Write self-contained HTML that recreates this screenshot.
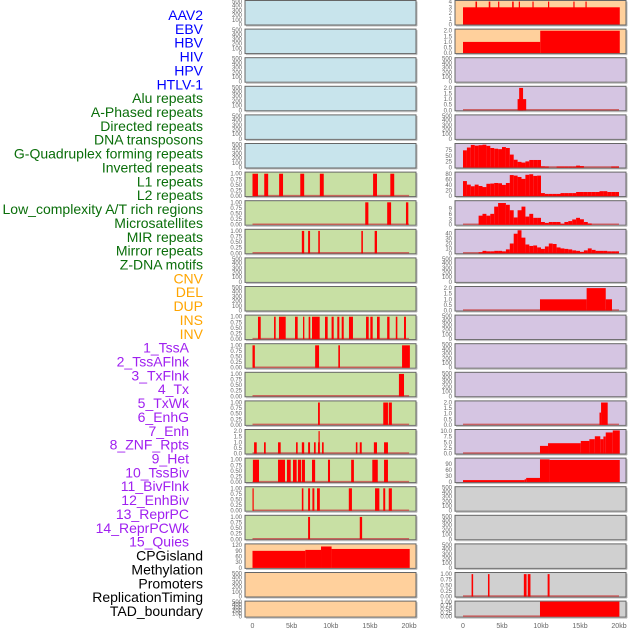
<!DOCTYPE html>
<html><head><meta charset="utf-8"><style>
html,body{margin:0;padding:0;background:#fff;width:630px;height:630px;overflow:hidden}
svg{display:block;font-family:"Liberation Sans",sans-serif}
</style></head><body>
<svg id="chart" width="630" height="630" viewBox="0 0 630 630" xmlns="http://www.w3.org/2000/svg"></svg>
<script>
const labels=["AAV2","EBV","HBV","HIV","HPV","HTLV-1","Alu repeats","A-Phased repeats","Directed repeats","DNA transposons","G-Quadruplex forming repeats","Inverted repeats","L1 repeats","L2 repeats","Low_complexity A/T rich regions","Microsatellites","MIR repeats","Mirror repeats","Z-DNA motifs","CNV","DEL","DUP","INS","INV","1_TssA","2_TssAFlnk","3_TxFlnk","4_Tx","5_TxWk","6_EnhG","7_Enh","8_ZNF_Rpts","9_Het","10_TssBiv","11_BivFlnk","12_EnhBiv","13_ReprPC","14_ReprPCWk","15_Quies","CPGisland","Methylation","Promoters","ReplicationTiming","TAD_boundary"];
const labelGroups=[6,13,5,15,5];
const groupColors=["#0000ff","#0a6e0a","#ffa500","#a020f0","#000000"];
const xTicks=[0,5,10,15,20];
const xTickLabels=["0","5kb","10kb","15kb","20kb"];
const leftBg=["blue","blue","blue","blue","blue","blue","green","green","green","green","green","green","green","green","green","green","green","green","green","peach","peach","peach"];
const rightBg=["peach","peach","lav","lav","lav","lav","lav","lav","lav","lav","lav","lav","lav","lav","lav","lav","lav","gray","gray","gray","gray","gray"];
const bgColors={blue:"#c8e4ec",green:"#c8e0a4",peach:"#ffd09c",lav:"#d5c5e2",gray:"#d0d0d0"};
const emptyTicks=[0,100,200,300,400,500];
const binTicks=[0,0.25,0.5,0.75,1.0];
const twoTicks=[0,0.5,1.0,1.5,2.0];
// left segments [startKb,endKb,value]
const L6=[[0,0.7,1],[1.5,2.0,1],[3.4,3.9,1],[6.1,6.6,1],[8.6,9.1,1],[15.4,15.9,1],[17.6,18.1,1]];
const L7=[[14.4,14.8,1],[17.2,17.7,1],[19.6,19.9,1]];
const L8=[[6.3,6.6,1],[7.1,7.35,1],[8.4,8.6,1],[13.9,14.1,1],[15.6,15.9,1]];
const L11=[[0.7,1.05,1],[2.75,2.96,1],[3.38,4.24,1],[5.43,5.77,1],[6.45,6.62,1],[7.17,7.38,1],[7.6,8.58,1],[9.26,9.6,1],[10.1,10.37,1],[10.83,11.09,1],[11.39,11.65,1],[12.32,12.83,1],[14.5,14.84,1],[15.05,15.35,1],[15.9,16.24,1],[17.2,17.5,1],[18.3,18.5,1],[19.35,19.6,1]];
const L12=[[0,0.3,1],[8.0,8.5,1],[10.96,11.17,1],[19.1,20.1,1]];
const L13=[[18.7,19.35,1]];
const L14=[[8.37,8.6,1],[16.7,17.3,1],[17.4,17.8,1]];
const L15=[[0.2,0.54,1],[1.47,1.69,1],[3.26,3.6,1],[5.56,5.77,1],[6.3,6.6,1],[7.1,7.35,1],[7.85,8.07,1],[8.37,8.6,1],[8.43,8.55,2],[8.88,9.09,1],[13.2,13.4,1],[13.7,13.95,1],[15.5,15.9,1],[16.8,17.3,1]];
const L16=[[0.05,0.83,1],[3.26,4.15,1],[4.4,4.88,1],[5.17,5.64,1],[5.8,6.2,1],[6.3,6.7,1],[7.6,8.0,1],[9.64,9.9,1],[12.6,12.95,1],[15.3,16.0,1],[16.8,17.3,1]];
const L17=[[0,0.15,1],[6.3,6.5,1],[7.1,7.35,1],[7.65,7.9,1],[8.24,8.6,1],[12.3,12.7,1],[15.65,16.2,1],[16.7,16.95,1],[17.4,17.8,1]];
const L18=[[7.1,7.35,1],[13.7,14.0,1]];
const L19=[[0,6.75,90],[6.75,8.75,95],[8.75,10.1,113],[10.1,20.08,100]];
// right segments
const R0=[[0,20.1,3],[1.6,1.8,4],[3.3,3.5,4],[4.5,4.65,4],[6.3,6.5,4],[7.15,7.3,4],[8.9,9.05,4],[10.9,11.05,4],[14.15,14.3,4],[15.7,15.85,4]];
const R1=[[0,9.9,1],[9.9,20.1,2]];
const R3=[[7.0,8.1,1],[7.2,7.7,2]];
const R10=[[9.87,15.85,1],[15.85,18.3,2],[18.3,19.1,1]];
const R14=[[17.5,17.7,1.1],[17.7,18.55,2]];
const R15=[[9.87,10.9,3.4],[10.9,15.1,4.6],[15.1,16.2,5.6],[16.2,16.9,6.4],[16.9,17.6,7.7],[17.6,18.0,6.4],[18.0,18.3,7.6],[18.3,19.2,9.4],[19.2,20.1,10.3]];
const R16=[[0,7.9,10],[7.9,8.1,14],[8.1,9.87,21],[9.87,11.1,114],[11.1,20.1,111]];
const R20=[[1.1,1.3,1],[3.2,3.4,1],[7.8,8.15,1],[8.3,8.65,1],[10.85,11.1,1]];
const R21=[[9.87,20.05,1]];
// right histograms, 0.5kb bins from 0kb
const R5hist=[73,85,96,93,95,97,92,83,80,78,87,83,55,33,24,21,26,32,32,32,5,4,0,0,4,4,4,4,4,8,6,0,0,0,0,0,0,0,4,4];
const R6hist=[55,42,36,42,37,33,45,46,48,47,41,48,77,75,70,63,78,80,74,75,11,8,8,8,8,11,11,11,11,15,15,15,15,15,15,18,18,15,15,15];
const R7hist=[0,0,0,0,5,6,5,6,10,12,12,11,8,4,8,10,4.5,6,3.8,3.8,1.5,1,1.5,1.5,1.5,0.5,1.5,2,2.9,3.8,3,1.5,0.7,0,0,0,0,0,0,0];
const R8hist=[0,0,0,0,2,5,4,4,5,5,4,8,20,40,47,32,18,15,16,12,9,14,20,19,12,10,9,8,6,5,3,6,10,7,5,5,5,4,4,4];

const panels=[
 {side:"L",row:6,ymax:1.05,ticks:binTicks,fmt:2,segs:L6},
 {side:"L",row:7,ymax:1.05,ticks:binTicks,fmt:2,segs:L7},
 {side:"L",row:8,ymax:1.05,ticks:binTicks,fmt:2,segs:L8},
 {side:"L",row:11,ymax:1.05,ticks:binTicks,fmt:2,segs:L11},
 {side:"L",row:12,ymax:1.05,ticks:binTicks,fmt:2,segs:L12},
 {side:"L",row:13,ymax:1.05,ticks:binTicks,fmt:2,segs:L13},
 {side:"L",row:14,ymax:1.05,ticks:binTicks,fmt:2,segs:L14},
 {side:"L",row:15,ymax:2.1,ticks:twoTicks,fmt:1,segs:L15},
 {side:"L",row:16,ymax:1.05,ticks:binTicks,fmt:2,segs:L16},
 {side:"L",row:17,ymax:1.05,ticks:binTicks,fmt:2,segs:L17},
 {side:"L",row:18,ymax:1.05,ticks:binTicks,fmt:2,segs:L18},
 {side:"L",row:19,ymax:124,ticks:[0,30,60,90,120],fmt:0,segs:L19,nobase:true},
 {side:"R",row:0,ymax:4.1,ticks:[0,1,2,3,4],fmt:0,segs:R0,nobase:true},
 {side:"R",row:1,ymax:2.1,ticks:twoTicks,fmt:1,segs:R1,nobase:true},
 {side:"R",row:3,ymax:2.1,ticks:twoTicks,fmt:1,segs:R3},
 {side:"R",row:5,ymax:100,ticks:[0,25,50,75],fmt:0,hist:R5hist},
 {side:"R",row:6,ymax:86,ticks:[0,20,40,60,80],fmt:0,hist:R6hist},
 {side:"R",row:7,ymax:13,ticks:[0,3,6,9],fmt:0,hist:R7hist},
 {side:"R",row:8,ymax:48,ticks:[0,10,20,30,40],fmt:0,hist:R8hist},
 {side:"R",row:10,ymax:2.1,ticks:twoTicks,fmt:1,segs:R10},
 {side:"R",row:14,ymax:2.1,ticks:twoTicks,fmt:1,segs:R14},
 {side:"R",row:15,ymax:10.5,ticks:[0,2.5,5,7.5,10],fmt:1,segs:R15},
 {side:"R",row:16,ymax:118,ticks:[0,30,60,90],fmt:0,segs:R16,nobase:true},
 {side:"R",row:20,ymax:1.05,ticks:binTicks,fmt:2,segs:R20},
 {side:"R",row:21,ymax:1.0,ticks:binTicks,fmt:2,segs:R21}
];

const NS="http://www.w3.org/2000/svg";
const svg=document.getElementById("chart");
const SIDE={L:{left:245,w:171,x0:252.5,kb:7.83},R:{left:455,w:171,x0:463,kb:7.8}};
function xScale(side,kb){return SIDE[side].x0+kb*SIDE[side].kb;}
function rowTop(r){return 0.5+28.6*r;}
function rowH(r){return r===21?16:24.5;}
function yScale(row,v,ymax){const t=rowTop(row),h=rowH(row);return t+h-0.5-(v/ymax)*(h-1);}
function mk(tag,attrs,parent){const e=document.createElementNS(NS,tag);for(const k in attrs)e.setAttribute(k,attrs[k]);(parent||svg).appendChild(e);return e;}

// labels
let li=0;
labelGroups.forEach((n,g)=>{for(let k=0;k<n;k++){const t=mk("text",{x:g===3?189:203,y:20+li*13.86,"text-anchor":"end","font-size":"14",fill:groupColors[g]});
 
 
 t.textContent=labels[li];li++;}});

function tickText(side,row,v,ymax,fmt){const y=Math.max(rowTop(row)+3,Math.min(yScale(row,v,ymax)+2,rowTop(row)+rowH(row)+1.5));
 const t=mk("text",{x:SIDE[side].left-3,y:y,"text-anchor":"end","font-size":"6",fill:"#666"});
 
 
 t.textContent=v.toFixed(fmt);}

// backgrounds and empty ticks
const dataRows={};panels.forEach(p=>dataRows[p.side+p.row]=p);
for(let r=0;r<22;r++){["L","R"].forEach(side=>{
 const s=SIDE[side];
 const bg=mk("rect",{x:s.left,y:rowTop(r),width:s.w,height:rowH(r),fill:bgColors[(side==="L"?leftBg:rightBg)[r]],stroke:"#666","stroke-width":"1"});
 
 
 mk("line",{x1:s.left+1,y1:rowTop(r)+rowH(r)+1,x2:s.left+s.w+1,y2:rowTop(r)+rowH(r)+1,stroke:"#bbb","stroke-width":"1"});
 mk("line",{x1:s.left+s.w+1,y1:rowTop(r)+1,x2:s.left+s.w+1,y2:rowTop(r)+rowH(r)+1,stroke:"#bbb","stroke-width":"1"});
 if(!dataRows[side+r]) emptyTicks.forEach(v=>tickText(side,r,v,500,0));
});}

// data
panels.forEach(p=>{
 p.ticks.forEach(v=>tickText(p.side,p.row,v,p.ymax,p.fmt));
 const base=yScale(p.row,0,p.ymax);
 if(!p.nobase){const bl=mk("line",{x1:xScale(p.side,0),y1:base-0.5,x2:xScale(p.side,20),y2:base-0.5,stroke:"#c84848","stroke-width":"1.5","stroke-opacity":"0.8"});
  
  }
 const segs=p.segs?p.segs:p.hist.map((v,i)=>[i*0.5,i*0.5+0.5,v]);
 segs.forEach(sg=>{if(sg[2]<=0)return;const x0=xScale(p.side,sg[0]),x1=xScale(p.side,sg[1]);const y=yScale(p.row,Math.min(sg[2],p.ymax),p.ymax);
  const b=mk("rect",{x:x0,y:y,width:Math.max(1.2,x1-x0),height:base-y,fill:"#ff0000"});
  
  });
});

// x axes
["L","R"].forEach(side=>{xTicks.forEach((v,i)=>{const t=mk("text",{x:xScale(side,v),y:628,"text-anchor":"middle","font-size":"7",fill:"#666"});
 
 
 t.textContent=xTickLabels[i];});});
</script>
</body></html>
